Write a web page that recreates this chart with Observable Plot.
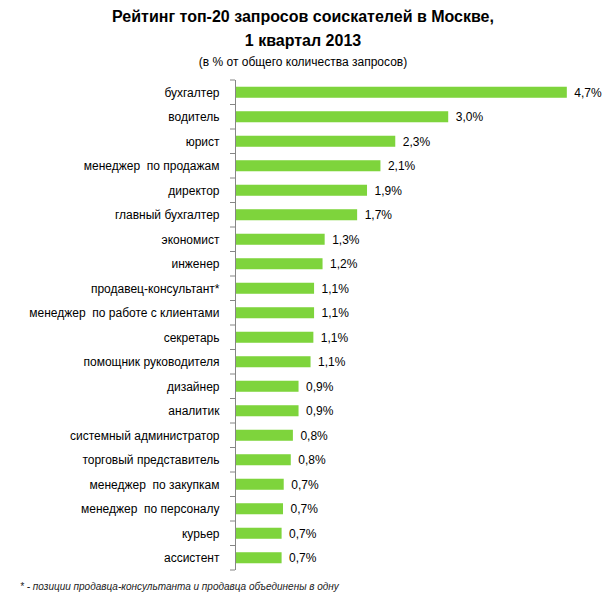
<!DOCTYPE html>
<html><head><meta charset="utf-8">
<script src="https://cdn.jsdelivr.net/npm/d3@7"></script>
<script src="https://cdn.jsdelivr.net/npm/@observablehq/plot@0.6"></script>
<style>
body{margin:0;background:#fff;}
#wrap{position:relative;width:606px;height:601px;font-family:"Liberation Sans",Arial,sans-serif;color:#000;}
#chart{position:absolute;left:0;top:0;}
.t{position:absolute;left:0;width:606px;text-align:center;white-space:nowrap;}
#t1{top:8px;font-size:16px;font-weight:bold;}
#t2{top:32px;font-size:16px;font-weight:bold;}
#t3{top:55px;font-size:12px;}
#foot{position:absolute;left:20px;top:581px;font-size:10px;font-style:italic;color:#222;white-space:nowrap;}
</style></head>
<body><div id="wrap">
<div id="chart"></div>
<div class="t" id="t1">Рейтинг топ-20 запросов соискателей в Москве,</div>
<div class="t" id="t2">1 квартал 2013</div>
<div class="t" id="t3">(в % от общего количества запросов)</div>
<div id="foot">* - позиции продавца-консультанта и продавца объединены в одну</div>
</div>
<script>
const categories = ["бухгалтер","водитель","юрист","менеджер  по продажам","директор","главный бухгалтер","экономист","инженер","продавец-консультант*","менеджер  по работе с клиентами","секретарь","помощник руководителя","дизайнер","аналитик","системный администратор","торговый представитель","менеджер  по закупкам","менеджер  по персоналу","курьер","ассистент"];
const values = [4.70,3.02,2.27,2.06,1.87,1.73,1.27,1.24,1.12,1.12,1.11,1.07,0.90,0.90,0.82,0.79,0.69,0.68,0.66,0.66];

const data = categories.map((c,i)=>({cat:c, value:values[i]}));
const fmt = v => d3.format(".1f")(v).replace(".", ",") + "%";
const axisColor = "#868686";

const boundaryTicks = (index, scales, vals, dims) => {
  const g = d3.create("svg:g");
  const n = categories.length;
  const top = dims.marginTop, bottom = dims.height - dims.marginBottom;
  const step = (bottom - top) / n;
  const x0 = scales.x ? scales.x(0) : dims.marginLeft;
  for (let i = 0; i <= n; i++) {
    g.append("line").attr("x1", x0 - 5).attr("x2", x0)
      .attr("y1", top + i*step).attr("y2", top + i*step)
      .attr("stroke", axisColor);
  }
  return g.node();
};

const chart = Plot.plot({
  width: 606, height: 601,
  marginTop: 80, marginBottom: 31, marginLeft: 235, marginRight: 18,
  style: {fontFamily: '"Liberation Sans", Arial, sans-serif', fontSize: "12px", color: "#000", background: "transparent"},
  x: {domain: [0, 5], axis: null},
  y: {domain: categories, paddingInner: 0.55, paddingOuter: 0.275, round: false, axis: null, label: null},
  marks: [
    Plot.barX(data, {x: "value", y: "cat", fill: "#7ed43c"}),
    Plot.ruleX([0], {stroke: axisColor}),
    boundaryTicks,
    Plot.axisY({tickSize: 0, tickPadding: 16, fontSize: 12, fill: "#000", label: null}),
    Plot.text(data, {x: "value", y: "cat", text: d => fmt(d.value), textAnchor: "start", dx: 7, fontSize: 12, fill: "#000"})
  ]
});
document.getElementById("chart").appendChild(chart);
</script>
</body></html>
